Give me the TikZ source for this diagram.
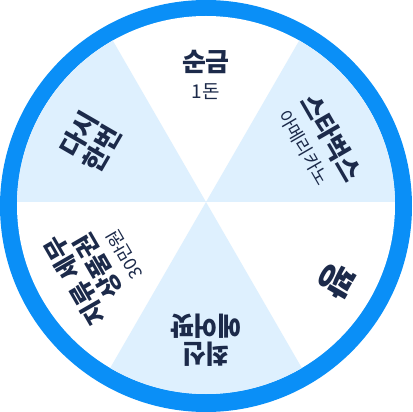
\documentclass[tikz,border=0pt]{standalone}
\usepackage{fontspec}
\newfontfamily\kr{Noto Sans CJK KR}
\usetikzlibrary{positioning}
\definecolor{wheelblue}{HTML}{0A8FF7}
\definecolor{slicebg}{HTML}{DEF0FE}
\definecolor{inknavy}{HTML}{1C2A4A}

\begin{document}
\begin{tikzpicture}[x=1pt, y=1pt,
    prize/.style={font=\kr\bfseries\fontsize{26}{28}\selectfont, text=inknavy,
      inner sep=0pt, text height=0.83em, text depth=0.07em},
    prizesub/.style={prize, font=\kr\fontsize{18}{20}\selectfont}]
  \useasboundingbox (-206,-206) rectangle (206,206);

  % rim
  \fill[wheelblue] (0,0) circle (206);
  \fill[white] (0,1) circle (189);

  % slices
  \begin{scope}
    \clip (0,1) circle (189);
    \foreach \a in {0,120,240}
      \fill[slicebg] (0,4) -- ++(\a:260) arc[start angle=\a, end angle=\a+60, radius=260] -- cycle;
  \end{scope}

  % prizes
  \begin{scope}[shift={(0,4)}]
    \node[prize] (gold) at (90:134) {순금};
    \node[prizesub, font=\kr\fontsize{19}{21}\selectfont] (goldsub) at (90:107) {1돈};

    \node[prize, rotate=-60] (coffee) at (27:135) {스타벅스};
    \node[prizesub, rotate=-60] (coffeesub) at (29:109) {아메리카노};

    \node[prize, font=\kr\bfseries\fontsize{36}{38}\selectfont, rotate=-120] (miss) at (-31:143) {꽝};

    \node[prize, rotate=180] (pods) at (-90:146) {최신};
    \node[prize, rotate=180] (podssub) at (-90:118) {에어팟};

    \node[prize, font=\kr\bfseries\fontsize{25}{27}\selectfont, rotate=120] (voucher) at (211:147) {지류 세무};
    \node[prize, font=\kr\bfseries\fontsize{25}{27}\selectfont, rotate=120] (voucherb) at (211:120) {상품권};
    \node[prizesub, rotate=120] (vouchersub) at (213:94) {30만원};

    \node[prize, rotate=60] (again) at (152:138) {다시};
    \node[prize, rotate=60] (againb) at (153:111) {한번};
  \end{scope}
\end{tikzpicture}
\end{document}
